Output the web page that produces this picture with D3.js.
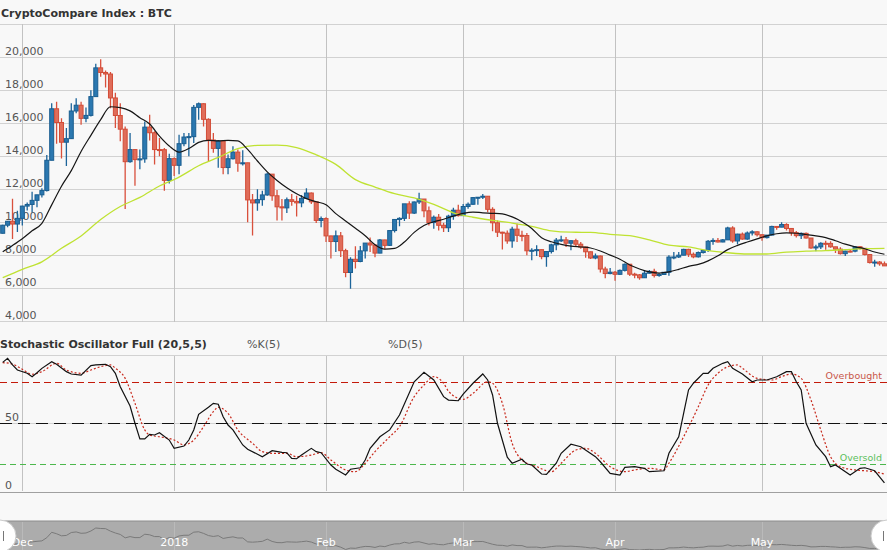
<!DOCTYPE html>
<html>
<head>
<meta charset="utf-8">
<script src="https://cdnjs.cloudflare.com/ajax/libs/d3/7.8.5/d3.min.js"></script>
<style>
    body { margin: 0; background: #f8f8f8; }
    svg { display: block; font-family: "DejaVu Sans", Verdana, sans-serif; }
</style>
</head>
<body>
<svg width="887" height="550"></svg>
<script>
// daily candles: date, open, high, low, close
var ohlc = [
    ["2017-11-27", 9330, 9840, 9320, 9818],
    ["2017-11-28", 9818, 10080, 9690, 10058],
    ["2017-11-29", 10058, 11420, 8990, 9888],
    ["2017-11-30", 9888, 10700, 9400, 10233],
    ["2017-12-01", 10233, 10990, 9800, 10975],
    ["2017-12-02", 10975, 11200, 10710, 11074],
    ["2017-12-03", 11074, 11850, 10590, 11323],
    ["2017-12-04", 11323, 11660, 10910, 11657],
    ["2017-12-05", 11657, 12060, 11500, 11916],
    ["2017-12-06", 11916, 14070, 11860, 13750],
    ["2017-12-07", 13750, 17200, 13750, 16867],
    ["2017-12-08", 16867, 17300, 14750, 16037],
    ["2017-12-09", 16037, 16300, 13850, 14843],
    ["2017-12-10", 14843, 15700, 13400, 15059],
    ["2017-12-11", 15059, 17200, 15030, 16733],
    ["2017-12-12", 16733, 17500, 16600, 17083],
    ["2017-12-13", 17083, 17300, 15900, 16287],
    ["2017-12-14", 16287, 16950, 16050, 16467],
    ["2017-12-15", 16467, 17990, 16400, 17604],
    ["2017-12-16", 17604, 19590, 17600, 19345],
    ["2017-12-17", 19345, 19870, 18800, 19065],
    ["2017-12-18", 19065, 19180, 18150, 18972],
    ["2017-12-19", 18972, 19100, 16900, 17523],
    ["2017-12-20", 17523, 17830, 15700, 16461],
    ["2017-12-21", 16461, 17200, 14900, 15632],
    ["2017-12-22", 15632, 15800, 10800, 13664],
    ["2017-12-23", 13664, 15400, 13600, 14397],
    ["2017-12-24", 14397, 14400, 12200, 13790],
    ["2017-12-25", 13790, 14400, 13200, 13833],
    ["2017-12-26", 13833, 16100, 13600, 15756],
    ["2017-12-27", 15756, 16500, 14950, 15416],
    ["2017-12-28", 15416, 15500, 13500, 14398],
    ["2017-12-29", 14398, 15100, 14000, 14392],
    ["2017-12-30", 14392, 14500, 11900, 12532],
    ["2017-12-31", 12532, 14150, 12350, 13850],
    ["2018-01-01", 13850, 13920, 12800, 13444],
    ["2018-01-02", 13444, 15300, 12900, 14754],
    ["2018-01-03", 14754, 15400, 14600, 15156],
    ["2018-01-04", 15156, 15400, 14000, 15180],
    ["2018-01-05", 15180, 17100, 14800, 16954],
    ["2018-01-06", 16954, 17250, 16200, 17172],
    ["2018-01-07", 17172, 17200, 15800, 16228],
    ["2018-01-08", 16228, 16300, 13700, 14976],
    ["2018-01-09", 14976, 15400, 14200, 14469],
    ["2018-01-10", 14469, 14970, 13300, 14920],
    ["2018-01-11", 14920, 14950, 12900, 13309],
    ["2018-01-12", 13309, 14100, 12900, 13842],
    ["2018-01-13", 13842, 14600, 13800, 14244],
    ["2018-01-14", 14244, 14400, 13050, 13572],
    ["2018-01-15", 13572, 14350, 13440, 13596],
    ["2018-01-16", 13596, 13600, 10000, 11349],
    ["2018-01-17", 11349, 11700, 9200, 11167],
    ["2018-01-18", 11167, 12000, 10700, 11366],
    ["2018-01-19", 11366, 11900, 11000, 11651],
    ["2018-01-20", 11651, 13000, 11600, 12910],
    ["2018-01-21", 12910, 12910, 11300, 11600],
    ["2018-01-22", 11600, 11950, 10100, 10931],
    ["2018-01-23", 10931, 11400, 10100, 10868],
    ["2018-01-24", 10868, 11500, 10550, 11360],
    ["2018-01-25", 11360, 11700, 10990, 11259],
    ["2018-01-26", 11259, 11600, 10350, 11171],
    ["2018-01-27", 11171, 11650, 10900, 11441],
    ["2018-01-28", 11441, 12050, 11420, 11767],
    ["2018-01-29", 11767, 11800, 11100, 11233],
    ["2018-01-30", 11233, 11270, 9950, 10107],
    ["2018-01-31", 10107, 10350, 9700, 10221],
    ["2018-02-01", 10221, 10300, 8800, 9170],
    ["2018-02-02", 9170, 9180, 7800, 8830],
    ["2018-02-03", 8830, 9500, 8200, 9174],
    ["2018-02-04", 9174, 9400, 7900, 8277],
    ["2018-02-05", 8277, 8400, 6660, 6955],
    ["2018-02-06", 6955, 7880, 5970, 7754],
    ["2018-02-07", 7754, 8550, 7200, 7621],
    ["2018-02-08", 7621, 8560, 7580, 8265],
    ["2018-02-09", 8265, 8740, 7800, 8736],
    ["2018-02-10", 8736, 9080, 8200, 8621],
    ["2018-02-11", 8621, 8630, 7880, 8129],
    ["2018-02-12", 8129, 8990, 8120, 8926],
    ["2018-02-13", 8926, 8940, 8390, 8598],
    ["2018-02-14", 8598, 9500, 8560, 9494],
    ["2018-02-15", 9494, 10200, 9380, 10166],
    ["2018-02-16", 10166, 10300, 9750, 10233],
    ["2018-02-17", 10233, 11100, 10080, 11112],
    ["2018-02-18", 11112, 11270, 10200, 10551],
    ["2018-02-19", 10551, 11260, 10500, 11225],
    ["2018-02-20", 11225, 11790, 11100, 11403],
    ["2018-02-21", 11403, 11400, 10300, 10690],
    ["2018-02-22", 10690, 10950, 9800, 9977],
    ["2018-02-23", 9977, 10400, 9600, 10301],
    ["2018-02-24", 10301, 10500, 9500, 9813],
    ["2018-02-25", 9813, 9970, 9400, 9664],
    ["2018-02-26", 9664, 10450, 9400, 10366],
    ["2018-02-27", 10366, 10880, 10150, 10725],
    ["2018-02-28", 10725, 11050, 10350, 10397],
    ["2018-03-01", 10397, 11100, 10380, 10951],
    ["2018-03-02", 10951, 11200, 10820, 11086],
    ["2018-03-03", 11086, 11530, 11060, 11489],
    ["2018-03-04", 11489, 11530, 11050, 11512],
    ["2018-03-05", 11512, 11700, 11410, 11573],
    ["2018-03-06", 11573, 11580, 10600, 10779],
    ["2018-03-07", 10779, 10900, 9450, 9965],
    ["2018-03-08", 9965, 10100, 9110, 9395],
    ["2018-03-09", 9395, 9420, 8350, 9337],
    ["2018-03-10", 9337, 9500, 8700, 8866],
    ["2018-03-11", 8866, 9730, 8450, 9578],
    ["2018-03-12", 9578, 9900, 8800, 9205],
    ["2018-03-13", 9205, 9480, 8850, 9194],
    ["2018-03-14", 9194, 9350, 8000, 8269],
    ["2018-03-15", 8269, 8430, 7700, 8300],
    ["2018-03-16", 8300, 8600, 7950, 8338],
    ["2018-03-17", 8338, 8350, 7760, 7916],
    ["2018-03-18", 7916, 8250, 7300, 8223],
    ["2018-03-19", 8223, 8700, 8100, 8630],
    ["2018-03-20", 8630, 9050, 8300, 8913],
    ["2018-03-21", 8913, 9180, 8800, 8929],
    ["2018-03-22", 8929, 9100, 8500, 8728],
    ["2018-03-23", 8728, 8900, 8300, 8879],
    ["2018-03-24", 8879, 9000, 8550, 8668],
    ["2018-03-25", 8668, 8800, 8400, 8496],
    ["2018-03-26", 8496, 8520, 7850, 8209],
    ["2018-03-27", 8209, 8220, 7770, 7833],
    ["2018-03-28", 7833, 8100, 7750, 7954],
    ["2018-03-29", 7954, 7980, 6950, 7165],
    ["2018-03-30", 7165, 7300, 6600, 6891],
    ["2018-03-31", 6891, 7220, 6850, 6973],
    ["2018-04-01", 6973, 7050, 6450, 6845],
    ["2018-04-02", 6845, 7130, 6820, 7083],
    ["2018-04-03", 7083, 7500, 7020, 7456],
    ["2018-04-04", 7456, 7460, 6750, 6853],
    ["2018-04-05", 6853, 6940, 6600, 6812],
    ["2018-04-06", 6812, 6860, 6520, 6636],
    ["2018-04-07", 6636, 7060, 6620, 6911],
    ["2018-04-08", 6911, 7110, 6900, 7023],
    ["2018-04-09", 7023, 7180, 6650, 6771],
    ["2018-04-10", 6771, 6900, 6700, 6834],
    ["2018-04-11", 6834, 6990, 6830, 6968],
    ["2018-04-12", 6968, 8000, 6760, 7889],
    ["2018-04-13", 7889, 8200, 7750, 7895],
    ["2018-04-14", 7895, 8200, 7840, 8003],
    ["2018-04-15", 8003, 8400, 8000, 8355],
    ["2018-04-16", 8355, 8400, 7900, 8058],
    ["2018-04-17", 8058, 8160, 7820, 7902],
    ["2018-04-18", 7902, 8230, 7870, 8163],
    ["2018-04-19", 8163, 8300, 8100, 8294],
    ["2018-04-20", 8294, 8920, 8200, 8845],
    ["2018-04-21", 8845, 9030, 8630, 8895],
    ["2018-04-22", 8895, 9040, 8770, 8802],
    ["2018-04-23", 8802, 8990, 8790, 8931],
    ["2018-04-24", 8931, 9730, 8930, 9652],
    ["2018-04-25", 9652, 9750, 8750, 8864],
    ["2018-04-26", 8864, 9300, 8670, 9279],
    ["2018-04-27", 9279, 9380, 8930, 8979],
    ["2018-04-28", 8979, 9430, 8940, 9346],
    ["2018-04-29", 9346, 9520, 9200, 9419],
    ["2018-04-30", 9419, 9450, 9140, 9241],
    ["2018-05-01", 9241, 9250, 8880, 9067],
    ["2018-05-02", 9067, 9230, 9020, 9219],
    ["2018-05-03", 9219, 9780, 9190, 9743],
    ["2018-05-04", 9743, 9750, 9550, 9700],
    ["2018-05-05", 9700, 9990, 9700, 9859],
    ["2018-05-06", 9859, 9930, 9500, 9621],
    ["2018-05-07", 9621, 9630, 9180, 9365],
    ["2018-05-08", 9365, 9470, 9080, 9188],
    ["2018-05-09", 9188, 9370, 8990, 9325],
    ["2018-05-10", 9325, 9380, 9020, 9043],
    ["2018-05-11", 9043, 9050, 8400, 8441],
    ["2018-05-12", 8441, 8640, 8240, 8505],
    ["2018-05-13", 8505, 8780, 8380, 8723],
    ["2018-05-14", 8723, 8880, 8330, 8716],
    ["2018-05-15", 8716, 8850, 8460, 8510],
    ["2018-05-16", 8510, 8520, 8140, 8368],
    ["2018-05-17", 8368, 8480, 8050, 8095],
    ["2018-05-18", 8095, 8270, 7960, 8250],
    ["2018-05-19", 8250, 8380, 8170, 8248],
    ["2018-05-20", 8248, 8560, 8180, 8513],
    ["2018-05-21", 8513, 8560, 8340, 8419],
    ["2018-05-22", 8419, 8420, 7980, 8042],
    ["2018-05-23", 8042, 8050, 7500, 7557],
    ["2018-05-24", 7557, 7720, 7300, 7587],
    ["2018-05-25", 7587, 7650, 7360, 7481],
    ["2018-05-26", 7481, 7620, 7350, 7355]
];

// moving averages: [candle index, value]
var smaFast = [
    [0, 8214], [2, 8590], [4, 9000], [6, 9480], [8, 9930], [10, 11050], [12, 12180], [14, 13120],
    [16, 14280], [18, 15260], [20, 16210], [22, 16990], [24, 16940], [26, 16740], [28, 16325],
    [30, 15945], [32, 15210], [34, 14610], [36, 14240], [38, 14460], [40, 14835], [42, 14955],
    [44, 14925], [46, 14955], [48, 14920], [50, 14405], [52, 13705], [54, 13050], [56, 12530],
    [58, 12090], [60, 11720], [62, 11425], [64, 11240], [66, 11060], [68, 10520], [70, 10075],
    [72, 9630], [74, 9180], [76, 8640], [78, 8370], [80, 8410], [82, 8800], [84, 9385], [86, 9800],
    [88, 10030], [90, 10180], [92, 10370], [94, 10535], [96, 10615], [98, 10570], [100, 10540],
    [102, 10500], [104, 10320], [106, 10030], [108, 9620], [110, 9055], [112, 8815], [114, 8660],
    [116, 8555], [118, 8500], [120, 8440], [122, 8260], [124, 8005], [126, 7760], [128, 7410],
    [130, 7170], [132, 6990], [134, 6920], [136, 6990], [138, 7145], [140, 7330], [142, 7450],
    [144, 7660], [146, 7965], [148, 8340], [150, 8595], [152, 8800], [154, 8990], [156, 9170],
    [158, 9300], [160, 9355], [162, 9330], [164, 9255], [166, 9175], [168, 9070], [170, 8880],
    [172, 8670], [174, 8510], [176, 8390], [178, 8195], [180, 8060]
];
var smaSlow = [
    [0, 6640], [4, 7150], [8, 7600], [12, 8420], [16, 9170], [20, 10160], [24, 10950], [28, 11500],
    [32, 12190], [36, 12730], [40, 13420], [44, 13920], [48, 14460], [52, 14650], [56, 14665],
    [60, 14520], [64, 14080], [68, 13500], [72, 12580], [76, 12130], [80, 11730], [84, 11470],
    [88, 11080], [92, 10570], [96, 10300], [100, 10110], [104, 9950], [108, 9750], [112, 9480],
    [116, 9395], [120, 9385], [124, 9265], [128, 9185], [132, 8930], [136, 8610], [140, 8500],
    [144, 8280], [148, 8150], [152, 8075], [156, 8075], [160, 8190], [164, 8245], [168, 8280],
    [172, 8340], [176, 8395], [180, 8420]
];

// stochastic oscillator: [candle index, value]
var stochK = [
    [0, 94.6], [1, 97.6], [2, 92.7], [3, 89], [5, 86.6], [6, 84.1], [7, 87], [8, 90.2], [10, 95.1],
    [11, 93.2], [13, 87.8], [14, 86.1], [16, 85.3], [18, 92.2], [19, 92.7], [21, 93.2], [22, 91.4],
    [23, 86.6], [24, 76.8], [26, 62.6], [27, 50], [28, 38.5], [29, 38.5], [30, 41.9], [31, 41.4],
    [32, 43.1], [34, 37.7], [35, 31.6], [37, 33.3], [38, 37.7], [39, 45.1], [40, 56.5], [42, 61.7],
    [43, 64.6], [44, 63.9], [45, 54.8], [46, 48.7], [47, 45.1], [49, 34.1], [50, 31], [53, 25.5],
    [55, 29.9], [57, 28.7], [58, 28.4], [59, 24.3], [60, 24], [61, 26.7], [63, 31.6], [64, 29.2],
    [65, 28.4], [67, 19.4], [68, 16.3], [70, 12.1], [71, 16.3], [73, 17.4], [74, 23.1], [75, 31.6],
    [77, 40.1], [79, 45.1], [81, 56], [84, 80.4], [86, 87.3], [88, 81.7], [90, 69.5], [91, 67],
    [93, 66.5], [94, 71.4], [96, 79.3], [98, 86.1], [99, 81.7], [100, 70.7], [101, 50], [103, 25.1],
    [104, 20.7], [106, 23.6], [107, 20.1], [108, 19.4], [110, 12.8], [111, 12.6], [113, 20.7],
    [114, 28], [116, 34.6], [118, 32.8], [121, 25.5], [122, 21.8], [124, 13.3], [126, 12.1],
    [127, 17.7], [129, 18.2], [131, 17], [132, 14.5], [135, 15.2], [136, 28], [138, 40.1],
    [139, 57.3], [140, 74.4], [141, 79.3], [143, 86.6], [144, 86.6], [145, 90.3], [147, 93.9],
    [148, 95.1], [149, 90.3], [151, 86.1], [153, 80.4], [154, 81.7], [156, 81.7], [158, 84.1],
    [160, 87.8], [161, 87.8], [162, 80.4], [163, 74.4], [164, 50], [166, 34.1], [168, 25.5],
    [169, 18.2], [170, 19.4], [173, 12.1], [175, 17], [176, 17.4], [178, 15.2], [179, 10.8], [180, 6.4]
];
var stochD = [
    [0, 94.4], [2, 93.4], [4, 89.5], [6, 85.9], [8, 87.8], [11, 93.9], [13, 89], [16, 86.6],
    [18, 89], [20, 91.4], [22, 92.7], [23, 90.3], [25, 82.9], [27, 64.6], [29, 45.1], [30, 41.4],
    [32, 40.1], [35, 37.7], [37, 34.1], [39, 37.7], [41, 47.5], [43, 58.5], [44, 61.7], [46, 57.3],
    [48, 45.1], [51, 35.3], [53, 29.2], [55, 28], [58, 28], [60, 25.5], [63, 26.7], [65, 28.4],
    [67, 23.1], [70, 15.8], [72, 14.5], [74, 20.7], [76, 29.2], [79, 40.1], [81, 47.5], [84, 69.5],
    [86, 78], [88, 84.1], [90, 79.3], [91, 73.5], [94, 67.5], [96, 71.9], [99, 80.4], [100, 79.3],
    [102, 64.6], [104, 35.3], [106, 23.1], [109, 18.2], [112, 14.5], [114, 20.7], [117, 30.4],
    [119, 31.6], [121, 28], [124, 18.2], [127, 14.5], [129, 15.8], [132, 17], [135, 15.8],
    [136, 20.7], [139, 40.1], [142, 62.1], [144, 78], [146, 86.6], [148, 91.4], [150, 92.7],
    [151, 90.3], [154, 82.9], [157, 81.7], [159, 84.1], [161, 86.1], [163, 82.9], [165, 67],
    [167, 45.1], [169, 25.5], [171, 18.2], [174, 15.8], [176, 15.2], [178, 14.5], [180, 12.8]
];

var priceTicks = [4000, 6000, 8000, 10000, 12000, 14000, 16000, 18000, 20000, 22000];
var stochTicks = [0, 50, 100];
var monthTicks = ["2017-12-01", "2018-01-01", "2018-02-01", "2018-03-01", "2018-04-01", "2018-05-01"];
var monthLabels = ["Dec", "2018", "Feb", "Mar", "Apr", "May"];
var levels = [80, 50, 20];

var svg = d3.select("svg"),
    width = +svg.attr("width"),
    height = +svg.attr("height");

var parse = d3.utcParse("%Y-%m-%d");
ohlc.forEach(function (d) {
    d.date = parse(d[0]);
});

var x = d3.scaleUtc()
    .domain([parse("2017-12-01"), parse("2018-05-01")])
    .range([22.3, 762]);
var y = d3.scaleLinear().domain([4000, 22000]).range([321.3, 24]);
var yStoch = d3.scaleLinear().domain([0, 100]).range([491.5, 355]);
var yNav = d3.scaleLinear().domain([5500, 20500]).range([552, 526]);

svg.append("rect").attr("width", width).attr("height", height).attr("fill", "#f8f8f8");

var defs = svg.append("defs");
defs.append("clipPath").attr("id", "clipMain")
    .append("rect").attr("x", 0).attr("y", 24).attr("width", width).attr("height", 297.5);
defs.append("clipPath").attr("id", "clipStoch")
    .append("rect").attr("x", 0).attr("y", 355).attr("width", width).attr("height", 137);
defs.append("clipPath").attr("id", "clipNav")
    .append("rect").attr("x", 0).attr("y", 521).attr("width", width).attr("height", 29);

// ---- main panel grid
svg.append("g")
    .selectAll("line")
    .data(priceTicks)
    .enter().append("line")
    .attr("x1", 0).attr("x2", width)
    .attr("y1", function (d) { return Math.round(y(d)) + 0.5; })
    .attr("y2", function (d) { return Math.round(y(d)) + 0.5; })
    .attr("stroke", "#d2d2d2");

svg.append("g")
    .selectAll("text")
    .data(priceTicks.filter(function (d) { return d < 22000; }))
    .enter().append("text")
    .attr("x", 5)
    .attr("y", function (d) { return y(d) - 2.5; })
    .attr("font-size", "11px")
    .attr("fill", "#555")
    .text(function (d) { return d3.format(",")(d); });

var vgrid = svg.append("g");
monthTicks.forEach(function (m) {
    var px = Math.round(x(parse(m))) + 0.5;
    vgrid.append("line").attr("x1", px).attr("x2", px).attr("y1", 24).attr("y2", 322)
        .attr("stroke", "#c2c2c2");
    vgrid.append("line").attr("x1", px).attr("x2", px).attr("y1", 355).attr("y2", 491)
        .attr("stroke", "#c2c2c2");
});

svg.append("text")
    .attr("x", 1).attr("y", 17)
    .attr("font-size", "11px")
    .attr("font-weight", "bold")
    .attr("fill", "#333")
    .text("CryptoCompare Index : BTC");

// ---- candles
var candles = svg.append("g").attr("clip-path", "url(#clipMain)")
    .selectAll("g")
    .data(ohlc)
    .enter().append("g");

candles.append("line")
    .attr("x1", function (d) { return x(d.date); })
    .attr("x2", function (d) { return x(d.date); })
    .attr("y1", function (d) { return y(d[2]); })
    .attr("y2", function (d) { return y(d[3]); })
    .attr("stroke", function (d) { return d[4] >= d[1] ? "#1c649a" : "#d9503c"; })
    .attr("stroke-width", 1.3);

candles.append("rect")
    .attr("x", function (d) { return x(d.date) - 2; })
    .attr("y", function (d) { return y(Math.max(d[1], d[4])); })
    .attr("width", 4)
    .attr("height", function (d) { return Math.max(1, Math.abs(y(d[1]) - y(d[4]))); })
    .attr("fill", function (d) { return d[4] >= d[1] ? "#2b78b0" : "#e06d5a"; })
    .attr("stroke", function (d) { return d[4] >= d[1] ? "#1a5e90" : "#d24c37"; })
    .attr("stroke-width", 1);

var lineFor = function (scale) {
    return d3.line()
        .x(function (d) { return x(ohlc[d[0]].date); })
        .y(function (d) { return scale(d[1]); })
        .curve(d3.curveMonotoneX);
};

var mainLines = svg.append("g").attr("clip-path", "url(#clipMain)");
mainLines.append("path").datum(smaSlow)
    .attr("d", lineFor(y))
    .attr("fill", "none").attr("stroke", "#bfe232").attr("stroke-width", 1.3);
mainLines.append("path").datum(smaFast)
    .attr("d", lineFor(y))
    .attr("fill", "none").attr("stroke", "#161616").attr("stroke-width", 1.2);

// ---- stochastic panel
svg.append("text")
    .attr("x", 0).attr("y", 348)
    .attr("font-size", "11px")
    .attr("font-weight", "bold")
    .attr("fill", "#333")
    .text("Stochastic Oscillator Full (20,5,5)");
svg.append("text").attr("x", 247).attr("y", 348).attr("font-size", "11px").attr("fill", "#555").text("%K(5)");
svg.append("text").attr("x", 388).attr("y", 348).attr("font-size", "11px").attr("fill", "#555").text("%D(5)");

svg.append("g")
    .selectAll("line")
    .data(stochTicks)
    .enter().append("line")
    .attr("x1", 0).attr("x2", width)
    .attr("y1", function (d) { return Math.round(yStoch(d)) + 0.5; })
    .attr("y2", function (d) { return Math.round(yStoch(d)) + 0.5; })
    .attr("stroke", function (d) { return d === 0 ? "#a0a0a0" : "#d2d2d2"; });

svg.append("g")
    .selectAll("text")
    .data(stochTicks.filter(function (d) { return d < 100; }))
    .enter().append("text")
    .attr("x", 5)
    .attr("y", function (d) { return yStoch(d) - 2.5; })
    .attr("font-size", "11px")
    .attr("fill", "#555")
    .text(function (d) { return d; });

var levelStyle = {
    80: { color: "#c41a0a", dash: "7,4" },
    50: { color: "#111111", dash: "12,6" },
    20: { color: "#4cb84c", dash: "6,4" }
};
svg.append("g")
    .selectAll("line")
    .data(levels)
    .enter().append("line")
    .attr("x1", 0).attr("x2", width)
    .attr("y1", function (d) { return Math.round(yStoch(d)) + 0.5; })
    .attr("y2", function (d) { return Math.round(yStoch(d)) + 0.5; })
    .attr("stroke", function (d) { return levelStyle[d].color; })
    .attr("stroke-dasharray", function (d) { return levelStyle[d].dash; })
    .attr("stroke-width", 1.1);

svg.append("text").attr("x", 882).attr("y", yStoch(80) - 3.5).attr("text-anchor", "end")
    .attr("font-size", "9.5px").attr("fill", "#c8564a").text("Overbought");
svg.append("text").attr("x", 882).attr("y", yStoch(20) - 3.5).attr("text-anchor", "end")
    .attr("font-size", "9.5px").attr("fill", "#5cbf5c").text("Oversold");

var stochLine = d3.line()
    .x(function (d) { return x(ohlc[d[0]].date); })
    .y(function (d) { return yStoch(d[1]); });

var stochG = svg.append("g").attr("clip-path", "url(#clipStoch)");
stochG.append("path").datum(stochD)
    .attr("d", stochLine.curve(d3.curveMonotoneX))
    .attr("fill", "none").attr("stroke", "#c8291c").attr("stroke-width", 1.2)
    .attr("stroke-dasharray", "2,2");
stochG.append("path").datum(stochK)
    .attr("d", stochLine.curve(d3.curveLinear))
    .attr("fill", "none").attr("stroke", "#111").attr("stroke-width", 1.2);

// ---- navigator
var nav = svg.append("g");
nav.append("rect").attr("x", 0).attr("y", 521).attr("width", width).attr("height", 29).attr("fill", "#acacac");
nav.append("line").attr("x1", 0).attr("x2", width).attr("y1", 521).attr("y2", 521).attr("stroke", "#8c8c8c");
monthTicks.forEach(function (m) {
    var px = Math.round(x(parse(m))) + 0.5;
    nav.append("line").attr("x1", px).attr("x2", px).attr("y1", 522).attr("y2", 550)
        .attr("stroke", "#bababa");
});
nav.append("path").datum(ohlc)
    .attr("clip-path", "url(#clipNav)")
    .attr("d", d3.line()
        .x(function (d) { return x(d.date); })
        .y(function (d) { return yNav(d[4]); }))
    .attr("fill", "none").attr("stroke", "#7a7a7a").attr("stroke-width", 1);

nav.selectAll("text.month")
    .data(monthTicks)
    .enter().append("text")
    .attr("class", "month")
    .attr("x", function (d) { return x(parse(d)); })
    .attr("y", 545.5)
    .attr("text-anchor", "middle")
    .attr("font-size", "11px")
    .attr("fill", "#ffffff")
    .text(function (d, i) { return monthLabels[i]; });

[0, width].forEach(function (hx, i) {
    nav.append("circle").attr("cx", hx).attr("cy", 536).attr("r", 16)
        .attr("fill", "#ffffff").attr("stroke", "#cccccc");
    var lx = i === 0 ? 3.5 : width - 3.5;
    nav.append("line").attr("x1", lx).attr("x2", lx).attr("y1", 531).attr("y2", 541)
        .attr("stroke", "#777");
});
</script>
</body>
</html>
